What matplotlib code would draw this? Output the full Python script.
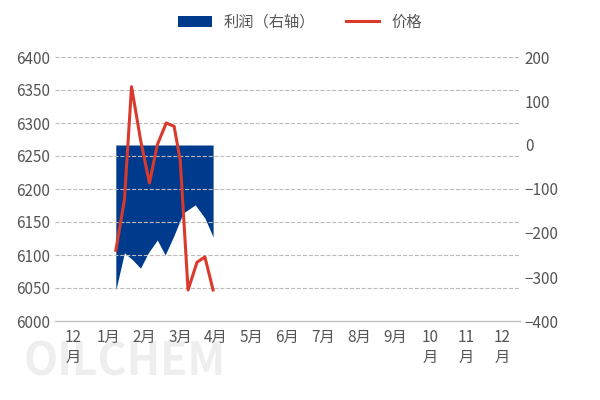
import matplotlib
matplotlib.use("Agg")
import matplotlib.pyplot as plt

plt.rcParams['font.family'] = ['Noto Sans CJK SC', 'DejaVu Sans']

months = ["12\n月", "1月", "2月", "3月", "4月", "5月", "6月", "7月", "8月", "9月", "10\n月", "11\n月", "12\n月"]
profit_x = [1.20, 1.44, 1.67, 1.89, 2.11, 2.36, 2.58, 2.83, 3.08, 3.42, 3.69, 3.92]
profit_y = [-330, -245, -261, -280, -245, -216, -250, -205, -155, -136, -166, -209]
price_x = [1.20, 1.44, 1.64, 1.89, 2.14, 2.36, 2.61, 2.83, 3.00, 3.22, 3.47, 3.69, 3.92]
price_y = [6107, 6183, 6355, 6275, 6209, 6267, 6300, 6295, 6244, 6047, 6089, 6097, 6047]

fig = plt.figure(figsize=(6, 4), dpi=100)
fig.text(0.04, 0.06, 'OILCHEM', fontsize=32, color='#EEEEEE', fontweight='bold', zorder=0)
ax = fig.add_axes([55/600, 1-321/400, 465/600, 264/400])
ax2 = ax.twinx()
ax.set_zorder(ax2.get_zorder() + 1)
ax.patch.set_visible(False)
ax2.patch.set_visible(False)

ax2.fill_between(profit_x, profit_y, 0, color='#003A8C', linewidth=0, label='利润（右轴）')
ax2.set_ylim(-400, 200)
ax2.set_yticks(range(-400, 201, 100))

ax.plot(price_x, price_y, color='#D93A2B', linewidth=2.2, label='价格')
ax.set_ylim(6000, 6400)
ax.set_yticks(range(6000, 6401, 50))
ax.set_xlim(-0.5, 12.5)
ax.set_xticks(range(13))
ax.set_xticklabels(months)
ax.grid(axis='y', linestyle='--', color='#BBBBBB', linewidth=0.8)

for a in (ax, ax2):
    for s in ('top', 'left', 'right'):
        a.spines[s].set_visible(False)
    a.spines['bottom'].set_color('#BBBBBB')
    a.tick_params(length=0, labelsize=11, colors='#555555')
ax.tick_params(axis='x', pad=6)

h1, l1 = ax2.get_legend_handles_labels()
h2, l2 = ax.get_legend_handles_labels()
fig.legend(h1 + h2, l1 + l2, loc='upper center', bbox_to_anchor=(0.5, 1.0), ncol=2,
           frameon=False, fontsize=11, labelcolor='#555555', handlelength=2.2)

fig.savefig('out.png')
